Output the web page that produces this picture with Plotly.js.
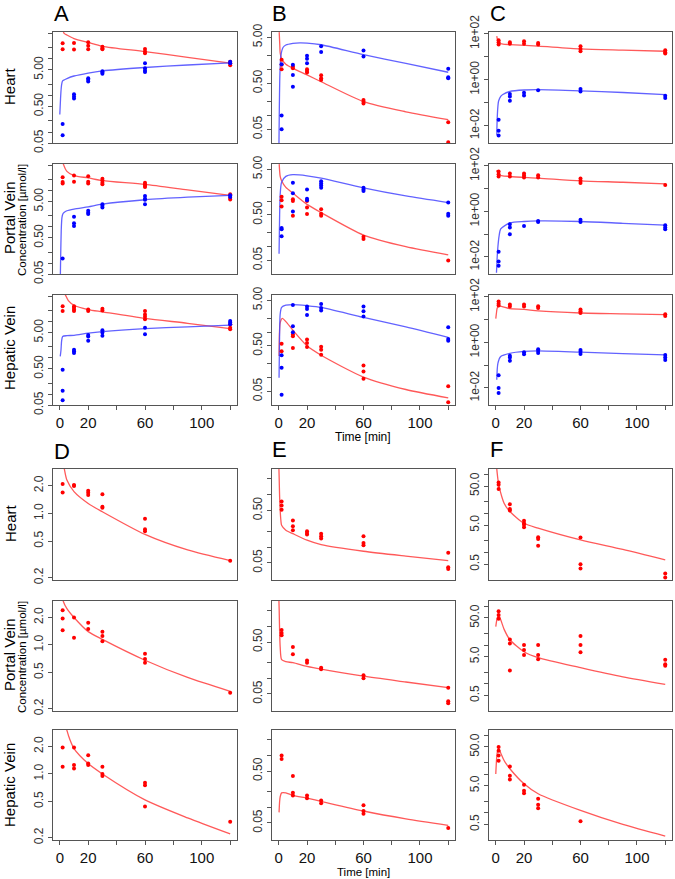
<!DOCTYPE html>
<html>
<head>
<meta charset="utf-8">
<script src="https://cdn.plot.ly/plotly-3.0.1.min.js"></script>
<style>body{margin:0;background:#fff}#chart{width:675px;height:879px}</style>
</head>
<body>
<div id="chart"></div>
<script>
// sampling times of the measured points [min]
var sampleT = [2, 10, 20, 30, 60, 120];

// ---- A / B / C : red and blue species, measured points grouped per sampling time ----
var aHeartRed = [[26.7,18.3],[27,18],[28.4,23,18.3],[21.6,19.5,18.3],[18.7,15.8,14.2],[8.3,7.6,6.7]];
var aHeartBlue = [[0.165,0.081],[1.08,0.94,0.83],[2.96,2.67,2.4],[4.6,4.23,3.89],[7.6,5.55,4.8,4.4],[8.4,7.6]];
var aHeartRedFitT = [1.5,2.5,3,5,10,20,30,60,90,120];
var aHeartRedFitY = [80,56,50,45,36,28,22,15.8,11,7.6];
var aHeartBlueFitT = [0,0.5,1,1.5,2,3,5,10,20,30,60,90,120];
var aHeartBlueFitY = [0.3,0.8,1.6,2.2,2.5,2.65,2.9,3.4,4.1,4.7,5.8,6.8,7.8];

var aPortalRed = [[23.5,17.2,15.8],[26.1,17.5],[25,17.5,15.8],[21.2,19.1,16.5,14.9],[16.5,14.9,13.7,12.6],[7.9,6.4,5.7]];
var aPortalBlue = [[0.134],[1.91,1.26,1.06],[2.78,2.45,2.26],[4.23,3.81,3.43],[7.1,6.0,5.6,4.23],[7.4,6.7]];
var aPortalRedFitT = [1.5,2.5,5,10,20,30,60,90,120];
var aPortalRedFitY = [80,54,34,26,22.5,19,14.9,10.5,7.4];
var aPortalBlueFitT = [0.3,0.6,1,1.5,2.2,3,5,10,20,30,60,90,120];
var aPortalBlueFitY = [0.03,0.15,0.8,1.8,2.3,2.5,2.78,3.1,3.57,4.23,5.6,6.6,7.4];

var aHepaticRed = [[26.7,19.5],[26.7,24,21.6,19.5],[21.6,19.5],[22.6,20.3],[19.5,15.8,13.7,11.6],[8.4,6.8,6.2]];
var aHepaticBlue = [[0.47,0.123,0.068],[1.68,1.52,1.36],[4.3,3.9,2.96],[5.8,5.0,4.05],[6.8,4.5],[10.4,9.4,8.4]];
var aHepaticRedFitT = [2,4,6,10,20,30,60,90,120];
var aHepaticRedFitY = [80,54,38,28.4,21.6,18.7,12.3,9,6.4];
var aHepaticBlueFitT = [0.3,0.8,1.3,2,5,10,20,30,60,90,120];
var aHepaticBlueFitY = [1.1,1.6,3.0,3.9,4.1,4.2,4.8,5.3,6.4,7.2,8.0];

var bHeartRed = [[1.62,1.26,1.01],[1.16,1.06],[1.01,0.93,0.86],[0.75,0.64,0.59],[0.216,0.199,0.182],[0.071,0.026]];
var bHeartBlue = [[1.3,0.1,0.05],[1.26,0.76,0.42],[1.99,1.71,1.37],[3.18,2.39],[2.6,1.92],[1.03,0.68,0.64]];
var bHeartRedFitT = [0.3,0.7,1,2,5,10,20,30,60,90,120];
var bHeartRedFitY = [6.5,3.5,2.3,1.7,1.3,1.06,0.76,0.54,0.2,0.12,0.081];
var bHeartBlueFitT = [0.1,0.4,0.8,1.5,3,5,10,15,20,30,60,90,120];
var bHeartBlueFitY = [0.02,0.15,0.8,2.0,3.0,3.4,3.7,3.8,3.75,3.45,2.1,1.35,0.87];

var bPortalRed = [[1.25,1.04,0.76],[1.1,1.0,0.475],[1.0,0.72,0.52],[0.66,0.53,0.475],[0.166,0.148],[0.05]];
var bPortalBlue = [[0.256,0.24,0.169],[2.52,1.48,0.59],[1.81,1.13,1.04],[2.74,2.44,2.21,1.96],[1.96,1.81,1.66],[0.93,0.53,0.475]];
var bPortalRedFitT = [0.3,1,2,5,10,20,30,60,90,120];
var bPortalRedFitY = [6.5,3.5,2.8,2.0,1.5,0.85,0.56,0.18,0.1,0.066];
var bPortalBlueFitT = [0.2,0.6,1,2,5,10,20,30,60,90,120];
var bPortalBlueFitY = [0.07,0.5,1.4,2.6,3.5,3.8,3.6,3.2,1.96,1.3,0.93];

var bHepaticRed = [[0.553,0.382],[0.885,0.81,0.45],[0.69,0.58,0.47],[0.48,0.41,0.32],[0.185,0.137,0.095],[0.065,0.029]];
var bHepaticBlue = [[0.31,0.165,0.042],[3.95,1.35,0.995],[3.63,3.2,2.39],[4.16,3.4,2.97],[3.63,2.87,2.19],[1.28,0.71,0.65]];
var bHepaticRedFitT = [0.2,0.5,1,2.5,5,10,20,30,60,90,120];
var bHepaticRedFitY = [0.3,1.0,1.6,2.0,1.7,1.1,0.5,0.31,0.103,0.055,0.036];
var bHepaticBlueFitT = [0.2,0.6,1,2,5,10,20,30,60,90,120];
var bHepaticBlueFitY = [0.1,1.0,2.5,3.5,3.9,4.0,3.8,3.5,2.1,1.3,0.77];

var cHeartRed = [[53,43,34],[43,37],[48,37],[40,34],[29,22,17.5],[19.4,15.8,13.9]];
var cHeartBlue = [[0.0183,0.006,0.0038],[0.24,0.19,0.123],[0.27,0.21],[0.35],[0.4,0.31],[0.2,0.16]];
var cHeartRedFitT = [0.7,2,5,10,30,60,90,120];
var cHeartRedFitY = [79,40,36,34,29,22,19.5,17.5];
var cHeartBlueFitT = [0.7,1,1.5,2,3.5,5,10,20,30,60,90,120];
var cHeartBlueFitY = [0.004,0.02,0.07,0.12,0.19,0.23,0.31,0.36,0.37,0.33,0.28,0.225];

var cPortalRed = [[57,43,34],[46,34],[46,38,31],[39,31],[28,22,17.6],[14.4]];
var cPortalBlue = [[0.017,0.0063,0.0041],[0.27,0.195,0.1],[0.23],[0.38,0.34],[0.43,0.34],[0.246,0.195,0.165]];
var cPortalRedFitT = [0.7,2,10,30,60,90,120];
var cPortalRedFitY = [65,41,34,29,22,19,16];
var cPortalBlueFitT = [0.5,1,1.5,2.3,3.5,10,20,30,60,90,120];
var cPortalBlueFitY = [0.002,0.01,0.028,0.08,0.17,0.31,0.36,0.38,0.36,0.3,0.25];

var cHepaticRed = [[63,50,42],[46,38],[46,38],[39,32],[28,23,19.5],[17,14.4]];
var cHepaticBlue = [[0.036,0.01,0.006],[0.26,0.215,0.154],[0.37,0.3],[0.5,0.42,0.34],[0.46,0.39,0.31],[0.28,0.215,0.17]];
var cHepaticRedFitT = [0,0.5,1,2.3,10,20,30,60,90,120];
var cHepaticRedFitY = [11,20,32,39,30,28,24,19.5,18,16.5];
var cHepaticBlueFitT = [0.7,1.5,3.5,10,20,30,60,90,120];
var cHepaticBlueFitY = [0.023,0.12,0.24,0.33,0.4,0.42,0.37,0.32,0.28];

// ---- D / E / F : red species only ----
var dHeart = [[2.08,1.69],[2.03,1.98],[1.76,1.68,1.58],[1.61,1.18,1.15],[0.875,0.67,0.64],[0.306]];
var dHeartFitT = [2,3.2,5,10,20,30,60,90,120];
var dHeartFitY = [4,3.03,2.3,1.72,1.28,1.04,0.59,0.4,0.306];
var dPortal = [[2.4,1.95,1.45],[2.0,1.2],[1.75,1.5],[1.4,1.25,1.1],[0.8,0.7,0.64],[0.3]];
var dPortalFitT = [1.5,2.5,5,10,20,30,60,90,120];
var dPortalFitY = [3.6,3.0,2.5,2.0,1.4,1.15,0.68,0.44,0.31];
var dHepatic = [[1.95,1.2],[1.95,1.25,1.15],[1.6,1.3,1.25],[1.2,1.0,0.95],[0.8,0.75,0.44],[0.3]];
var dHepaticFitT = [3,5,7,10,20,30,60,90,120];
var dHepaticFitY = [4,3.0,2.4,1.9,1.3,1.0,0.52,0.33,0.22];

var eHeart = [[0.74,0.62,0.515],[0.32,0.25,0.21],[0.2,0.186,0.173],[0.18,0.16,0.145],[0.16,0.12,0.108],[0.078,0.041,0.038]];
var eHeartFitT = [0,0.3,0.6,1,1.5,2,5,10,20,30,60,90,120];
var eHeartFitY = [4,2.0,0.9,0.5,0.32,0.26,0.21,0.18,0.135,0.111,0.083,0.067,0.055];
var ePortal = [[0.85,0.75,0.68],[0.4,0.29],[0.22,0.2],[0.16,0.15],[0.115,0.1],[0.066,0.036,0.033]];
var ePortalFitT = [0,0.3,0.6,1,2,5,10,20,30,60,90,120];
var ePortalFitY = [4,2,0.8,0.4,0.23,0.21,0.2,0.17,0.15,0.11,0.085,0.066];
var eHepatic = [[1.0,0.85],[0.4,0.19,0.17],[0.17,0.15],[0.135,0.12],[0.11,0.085,0.075],[0.04]];
var eHepaticFitT = [0.2,0.6,1,2,5,10,20,30,60,90,120];
var eHepaticFitY = [0.08,0.13,0.16,0.19,0.19,0.17,0.15,0.13,0.085,0.06,0.045];

var fHeart = [[62,54,42],[17.3,12.9,11.9],[6.5,5.6,5.1,4.4],[2.46,2.23,1.48],[2.42,0.5,0.39],[0.29,0.23]];
var fHeartFitT = [0.7,1.5,2.35,5.9,10,20,30,60,90,120];
var fHeartFitY = [137,75,49,18.3,11.2,5.6,4.2,2.1,1.2,0.65];
var fPortal = [[75,60,48],[14,11,2.2],[10,7.5,5.5],[10,5.5,4.3],[17,10,6.5],[4.2,3.2,2.9]];
var fPortalFitT = [0,1,2,3.5,6,10,20,30,60,90,120];
var fPortalFitY = [30,50,60,45,25,13.7,6.7,4.7,2.6,1.5,0.96];
var fHepatic = [[50,40,30,22],[15.6,9,7.2],[5.3,3.7,3.2],[2.3,1.6,1.3],[0.6],[]];
var fHepaticFitT = [0,1,2,3.5,6,10,20,30,60,90,120];
var fHepaticFitY = [10,35,45,35,22,13.7,5.6,3.1,1.15,0.5,0.25];

// ---- tick values and labels ----
var xTickVals = [0,20,40,60,80,100,120];
var xTickText = ['0','20','','60','','100',''];
var yTickA = [0.05,0.1,0.2,0.5,1,2,5,10,20,50];
var yTextA = ['0.05','','','0.50','','','5.00','','',''];
var yTickB = [0.05,0.1,0.2,0.5,1,2,5];
var yTextB = ['0.05','','','0.50','','','5.00'];
var yTickC = [0.01,0.1,1,10,100];
var yTextC = ['1e-02','','1e+00','','1e+02'];
var yTickD = [0.2,0.5,1,2];
var yTextD = ['0.2','0.5','1.0','2.0'];
var yTickE = [0.05,0.1,0.2,0.5,1,2];
var yTextE = ['0.05','','','0.50','',''];
var yTickF = [0.5,1,2,5,10,20,50,100];
var yTextF = ['0.5','','','5.0','','','50.0',''];

var W = 675, H = 879;
var colPx = [[53,237],[272,455],[489,672]];
var rowPx = [[32,143],[164,274],[295,405],[469,580],[601,711],[730,840]];
var yAxes = {
  A: {range:[-1.301,1.735], vals:yTickA, text:yTextA},
  B: {range:[-1.60,0.815], vals:yTickB, text:yTextB},
  C: {range:[-2.75,2.08], vals:yTickC, text:yTextC},
  D: {range:[-0.724,0.482], vals:yTickD, text:yTextD},
  E: {range:[-1.63,0.491], vals:yTickE, text:yTextE},
  F: {range:[-0.703,2.137], vals:yTickF, text:yTextF}
};

var RED = '#ff0000', BLUE = '#0000ff';
var RED_LINE = 'rgba(255,60,60,0.85)', BLUE_LINE = 'rgba(70,70,255,0.85)';
var FONT = 'Liberation Sans, Arial, sans-serif';

function flat(groups) {
  var x = [], y = [];
  groups.forEach(function (g, i) {
    g.forEach(function (v) { x.push(sampleT[i]); y.push(v); });
  });
  return {x: x, y: y};
}

var data = [];
var layout = {
  width: W, height: H,
  margin: {l: 0, r: 0, t: 0, b: 0},
  showlegend: false,
  paper_bgcolor: 'white', plot_bgcolor: 'white',
  font: {family: FONT, color: '#222'},
  annotations: []
};

function addPanel(k, row, col, type, series) {
  var sfx = k > 1 ? k : '';
  var ya = yAxes[type];
  var showX = (row === 2 || row === 5);
  layout['xaxis' + sfx] = {
    domain: [colPx[col][0] / W, colPx[col][1] / W],
    anchor: 'y' + sfx,
    range: [-4.8, 124.8],
    showgrid: false, zeroline: false,
    showline: true, mirror: true, linecolor: '#555', linewidth: 1,
    ticks: showX ? 'outside' : '', ticklen: 4, tickcolor: '#555',
    tickmode: 'array', tickvals: xTickVals, ticktext: xTickText,
    showticklabels: showX,
    tickfont: {size: 15, color: '#111', family: FONT}
  };
  layout['yaxis' + sfx] = {
    domain: [1 - rowPx[row][1] / H, 1 - rowPx[row][0] / H],
    anchor: 'x' + sfx,
    type: 'log', range: ya.range,
    showgrid: false, zeroline: false,
    showline: true, mirror: true, linecolor: '#555', linewidth: 1,
    ticks: 'outside', ticklen: 4, tickcolor: '#555',
    tickmode: 'array', tickvals: ya.vals, ticktext: ya.text,
    tickangle: -90,
    tickfont: {size: 12, color: '#333', family: FONT}
  };
  series.forEach(function (s) {
    data.push({
      x: s.fitT, y: s.fitY, xaxis: 'x' + sfx, yaxis: 'y' + sfx,
      mode: 'lines', type: 'scatter', hoverinfo: 'skip',
      line: {color: s.blue ? BLUE_LINE : RED_LINE, width: 1.3, shape: 'spline', smoothing: 0.7}
    });
  });
  series.forEach(function (s) {
    var p = flat(s.pts);
    data.push({
      x: p.x, y: p.y, xaxis: 'x' + sfx, yaxis: 'y' + sfx,
      mode: 'markers', type: 'scatter',
      marker: {color: s.blue ? BLUE : RED, size: 4}
    });
  });
}

var panels = [
  [0,0,'A',[{pts:aHeartRed,fitT:aHeartRedFitT,fitY:aHeartRedFitY},{pts:aHeartBlue,fitT:aHeartBlueFitT,fitY:aHeartBlueFitY,blue:true}]],
  [0,1,'B',[{pts:bHeartRed,fitT:bHeartRedFitT,fitY:bHeartRedFitY},{pts:bHeartBlue,fitT:bHeartBlueFitT,fitY:bHeartBlueFitY,blue:true}]],
  [0,2,'C',[{pts:cHeartRed,fitT:cHeartRedFitT,fitY:cHeartRedFitY},{pts:cHeartBlue,fitT:cHeartBlueFitT,fitY:cHeartBlueFitY,blue:true}]],
  [1,0,'A',[{pts:aPortalRed,fitT:aPortalRedFitT,fitY:aPortalRedFitY},{pts:aPortalBlue,fitT:aPortalBlueFitT,fitY:aPortalBlueFitY,blue:true}]],
  [1,1,'B',[{pts:bPortalRed,fitT:bPortalRedFitT,fitY:bPortalRedFitY},{pts:bPortalBlue,fitT:bPortalBlueFitT,fitY:bPortalBlueFitY,blue:true}]],
  [1,2,'C',[{pts:cPortalRed,fitT:cPortalRedFitT,fitY:cPortalRedFitY},{pts:cPortalBlue,fitT:cPortalBlueFitT,fitY:cPortalBlueFitY,blue:true}]],
  [2,0,'A',[{pts:aHepaticRed,fitT:aHepaticRedFitT,fitY:aHepaticRedFitY},{pts:aHepaticBlue,fitT:aHepaticBlueFitT,fitY:aHepaticBlueFitY,blue:true}]],
  [2,1,'B',[{pts:bHepaticRed,fitT:bHepaticRedFitT,fitY:bHepaticRedFitY},{pts:bHepaticBlue,fitT:bHepaticBlueFitT,fitY:bHepaticBlueFitY,blue:true}]],
  [2,2,'C',[{pts:cHepaticRed,fitT:cHepaticRedFitT,fitY:cHepaticRedFitY},{pts:cHepaticBlue,fitT:cHepaticBlueFitT,fitY:cHepaticBlueFitY,blue:true}]],
  [3,0,'D',[{pts:dHeart,fitT:dHeartFitT,fitY:dHeartFitY}]],
  [3,1,'E',[{pts:eHeart,fitT:eHeartFitT,fitY:eHeartFitY}]],
  [3,2,'F',[{pts:fHeart,fitT:fHeartFitT,fitY:fHeartFitY}]],
  [4,0,'D',[{pts:dPortal,fitT:dPortalFitT,fitY:dPortalFitY}]],
  [4,1,'E',[{pts:ePortal,fitT:ePortalFitT,fitY:ePortalFitY}]],
  [4,2,'F',[{pts:fPortal,fitT:fPortalFitT,fitY:fPortalFitY}]],
  [5,0,'D',[{pts:dHepatic,fitT:dHepaticFitT,fitY:dHepaticFitY}]],
  [5,1,'E',[{pts:eHepatic,fitT:eHepaticFitT,fitY:eHepaticFitY}]],
  [5,2,'F',[{pts:fHepatic,fitT:fHepaticFitT,fitY:fHepaticFitY}]]
];
panels.forEach(function (p, i) { addPanel(i + 1, p[0], p[1], p[2], p[3]); });

function note(text, px, py, size, angle, anchor) {
  layout.annotations.push({
    text: text, xref: 'paper', yref: 'paper',
    x: px / W, y: 1 - py / H, showarrow: false,
    xanchor: anchor || 'center', yanchor: 'middle',
    textangle: angle || 0,
    font: {family: FONT, size: size, color: '#000'}
  });
}

// panel letters
note('A', 52, 13, 22, 0, 'left');
note('B', 270, 13, 22, 0, 'left');
note('C', 488, 13, 22, 0, 'left');
note('D', 52, 452, 22, 0, 'left');
note('E', 270, 450, 22, 0, 'left');
note('F', 488, 450, 22, 0, 'left');

// row labels for the upper (A-C) and lower (D-F) groups
[0, 437].forEach(function (off) {
  note('Heart', 10, 86 + off, 15, -90);
  note('Portal Vein', 9, 218 + off, 15, -90);
  note('Concentration [µmol/l]', 22, 220 + off, 11.5, -90);
  note('Hepatic Vein', 9, 348 + off, 15, -90);
});

note('Time [min]', 363, 437, 12);
note('Time [min]', 363, 872, 11.5);

Plotly.newPlot('chart', data, layout, {staticPlot: true});
</script>
</body>
</html>
